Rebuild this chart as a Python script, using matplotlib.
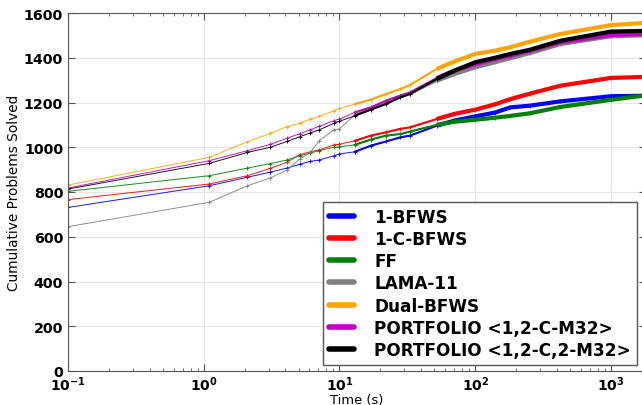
import matplotlib
matplotlib.use("Agg")
import matplotlib.pyplot as plt
from matplotlib.lines import Line2D
from numpy import array

# time points (s)
times = array([0.1, 1.1, 2.1, 3.1, 4.1, 5.1, 6.1, 7.1, 9.1, 10, 13, 17, 22, 28,
               33, 52, 70, 100, 140, 181, 254, 423, 1000, 1700])

bfws_1 = [731, 828, 866, 889, 907, 924, 937, 943, 962, 970, 980, 1007, 1026, 1044,
          1052, 1096, 1119, 1138, 1155, 1178, 1186, 1205, 1228, 1230]
c_bfws_1 = [766, 836, 873, 906, 933, 967, 980, 989, 1010, 1014, 1029, 1052, 1067, 1082,
            1089, 1126, 1149, 1168, 1192, 1215, 1240, 1275, 1310, 1314]
ff = [803, 873, 907, 927, 943, 962, 974, 985, 1000, 1002, 1011, 1034, 1052, 1059,
      1070, 1100, 1114, 1123, 1132, 1140, 1152, 1180, 1212, 1230]
lama_11 = [645, 754, 828, 863, 898, 947, 977, 1029, 1078, 1082, 1145, 1170, 1200, 1223,
           1236, 1297, 1327, 1357, 1380, 1398, 1421, 1461, 1496, 1500]
dual_bfws = [831, 955, 1025, 1062, 1092, 1107, 1126, 1138, 1163, 1174, 1193, 1213, 1238, 1260,
             1278, 1350, 1383, 1417, 1432, 1447, 1472, 1506, 1546, 1555]
portfolio_a = [818, 940, 985, 1013, 1040, 1061, 1078, 1094, 1119, 1126, 1156, 1178, 1208, 1231,
               1245, 1309, 1342, 1372, 1395, 1410, 1432, 1469, 1502, 1506]
portfolio_b = [813, 928, 977, 1000, 1026, 1047, 1064, 1078, 1107, 1116, 1141, 1168, 1193, 1223,
               1238, 1305, 1342, 1380, 1400, 1417, 1436, 1476, 1517, 1520]

series = [
    ("1-BFWS", bfws_1, "b"),
    ("1-C-BFWS", c_bfws_1, "r"),
    ("FF", ff, "g"),
    ("LAMA-11", lama_11, "gray"),
    ("Dual-BFWS", dual_bfws, "orange"),
    ("PORTFOLIO <1,2-C-M32>", portfolio_a, "m"),
    ("PORTFOLIO <1,2-C,2-M32>", portfolio_b, "k"),
]

fig = plt.figure(figsize=(6.42, 4.06), dpi=100)
ax = fig.add_axes([68 / 642, 34 / 406, 577.6 / 642, 358 / 406])

mid = times >= 13
late = times >= 40
handles = []
for name, vals, col in series:
    vals = array(vals, dtype=float)
    ax.plot(times, vals, color=col, lw=0.7, marker="+", ms=3, mew=0.7, alpha=0.9)
    # the dense markers of the original make the later part look thicker
    ax.plot(times[mid], vals[mid], color=col, lw=1.5)
    ax.plot(times[late], vals[late], color=col, lw=3.0, solid_capstyle="butt")
    handles.append(Line2D([], [], color=col, lw=4, solid_capstyle="round", label=name))

ax.set_xscale("log")
ax.set_xlim(0.1, 1800)
ax.set_ylim(0, 1600)
ax.set_xticks([0.1, 1, 10, 100, 1000])
ax.set_xticklabels([r"$\mathbf{10^{-1}}$", r"$\mathbf{10^{0}}$", r"$\mathbf{10^{1}}$",
                    r"$\mathbf{10^{2}}$", r"$\mathbf{10^{3}}$"], fontsize=10)
ax.set_yticks(range(0, 1601, 200))
for lab in ax.get_yticklabels():
    lab.set_fontweight("bold")
    lab.set_fontsize(10.3)

ax.tick_params(which="both", direction="in", top=True, right=True)
ax.tick_params(which="major", length=5, color="#555555")
ax.tick_params(which="minor", length=2.5, color="#555555")
ax.tick_params(axis="x", pad=2.5)
ax.grid(True, which="major", color="#e6e6e6", lw=0.8)
ax.set_axisbelow(True)
for sp in ax.spines.values():
    sp.set_color("#555555")

ax.set_xlabel("Time (s)", fontsize=9.4, labelpad=0)
ax.set_ylabel("Cumulative Problems Solved", fontsize=9.8, labelpad=2)

leg = ax.legend(handles=handles, loc="lower right", bbox_to_anchor=(0.985, 0.017),
                borderaxespad=0, fancybox=False, framealpha=1, edgecolor="#555555",
                prop={"weight": "bold", "size": 12.2}, handlelength=1.5,
                labelspacing=0.25, handletextpad=1.2, borderpad=0.35)
leg.get_frame().set_linewidth(1.0)

fig.savefig("out.png", dpi=100)
